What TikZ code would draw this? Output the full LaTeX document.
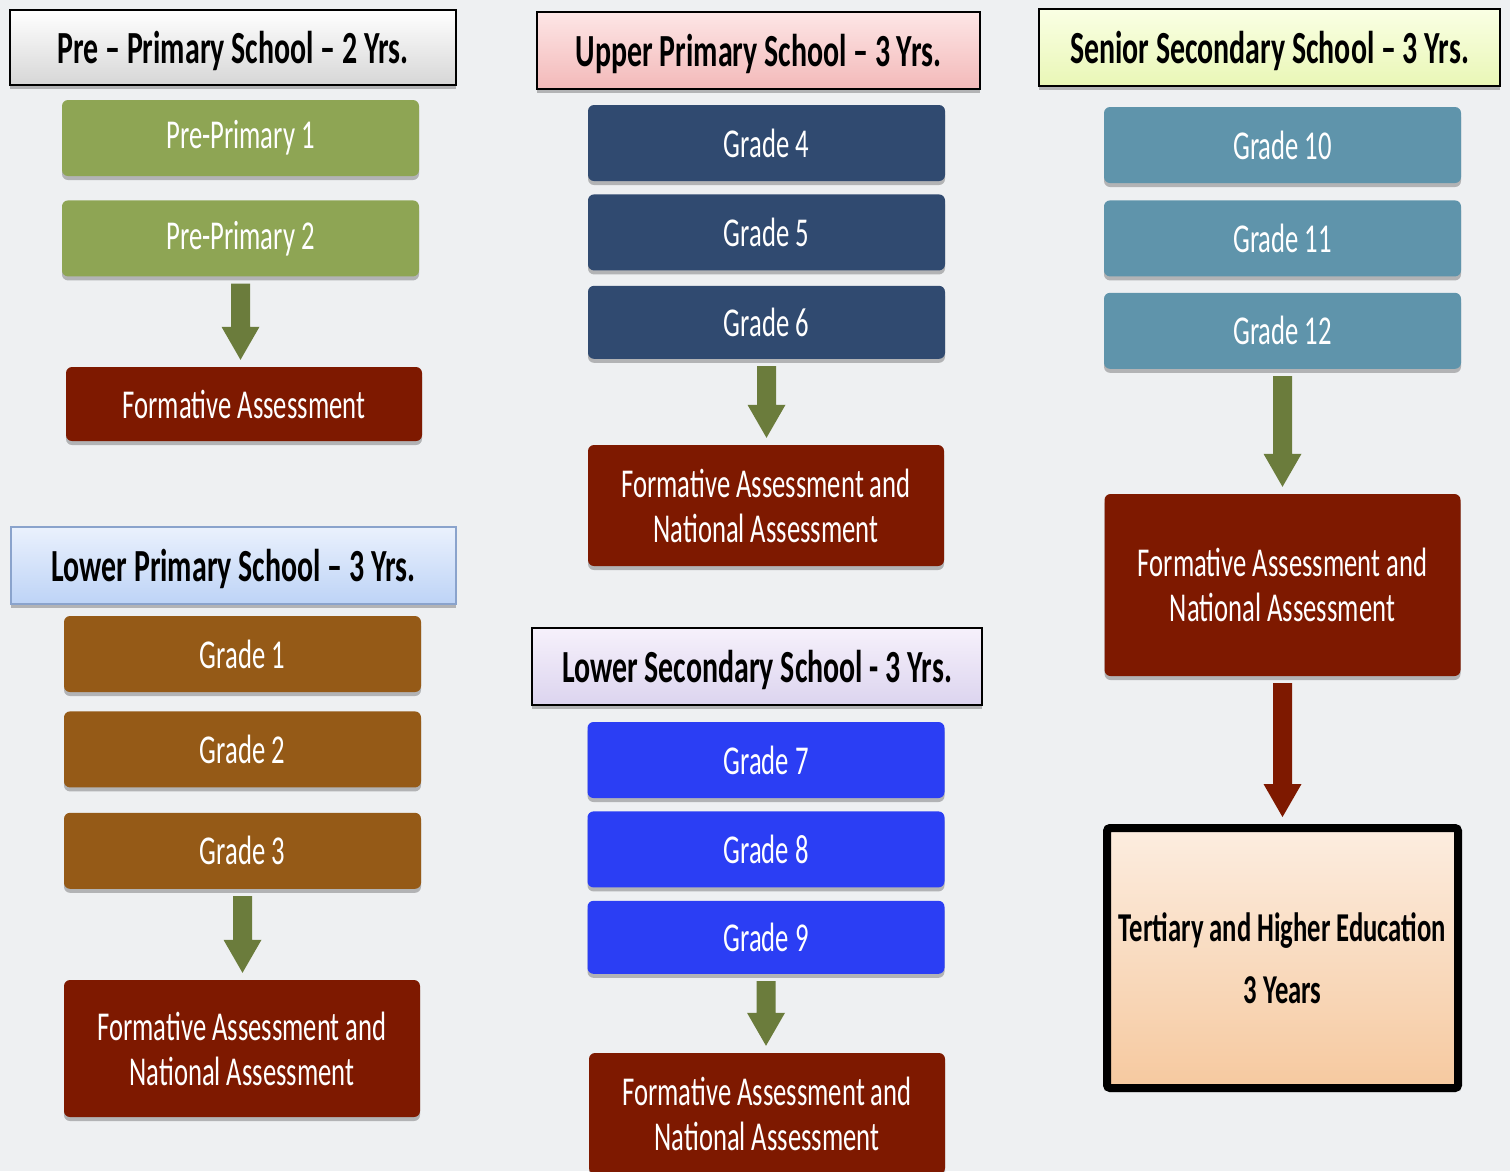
\documentclass[tikz,border=0pt]{standalone}
\usepackage{fontspec}
\setmainfont{Carlito}[FakeStretch=0.65]
\usetikzlibrary{positioning, calc, shadows}

\definecolor{bgcol}{HTML}{EEF0F2}
\definecolor{olivebox}{HTML}{8EA554}
\definecolor{assessred}{HTML}{7E1900}
\definecolor{brownbox}{HTML}{955A17}
\definecolor{navybox}{HTML}{304A70}
\definecolor{bluebox}{HTML}{2B3EF4}
\definecolor{steelbox}{HTML}{5F94AB}
\definecolor{arrowgreen}{HTML}{6B7C3C}

\tikzset{
  softshadow/.style={drop shadow={shadow xshift=0pt, shadow yshift=-4pt, opacity=0.25, fill=black}},
  header/.style={rectangle, draw=black, line width=1.5pt, minimum height=77pt, text=black, text depth=1pt,
    font=\fontsize{46}{50}\selectfont\bfseries, softshadow},
  hdrgray/.style={top color=white, bottom color=black!16},
  hdrpink/.style={top color={rgb,255:red,253;green,230;blue,230}, bottom color={rgb,255:red,243;green,185;blue,185}},
  hdrlime/.style={top color={rgb,255:red,250;green,255;blue,228}, bottom color={rgb,255:red,233;green,247;blue,182}},
  hdrsky/.style={top color={rgb,255:red,234;green,241;blue,253}, bottom color={rgb,255:red,189;green,211;blue,246}, draw={rgb,255:red,138;green,163;blue,204}},
  hdrlilac/.style={top color={rgb,255:red,246;green,241;blue,251}, bottom color={rgb,255:red,220;green,212;blue,239}},
  grade/.style={rectangle, rounded corners=6pt, fill=#1, minimum width=357pt, minimum height=76pt,
    text=white, font=\fontsize{41}{45}\selectfont, softshadow},
  assess/.style={grade=assessred, align=center, minimum width=356pt},
  tertiary/.style={rectangle, rounded corners=3pt, draw=black, line width=8pt, minimum width=351pt, minimum height=260pt,
    top color={rgb,255:red,252;green,237;blue,224}, bottom color={rgb,255:red,246;green,201;blue,159},
    text=black, align=center, font=\fontsize{41}{45}\selectfont\bfseries, softshadow},
  blockarrow/.style={fill=arrowgreen, to path={let \p1=(\tikztostart.south), \p2=(\tikztotarget.north) in
    (\x1-9.5pt,\y1-7pt) -- (\x1+9.5pt,\y1-7pt) -- (\x1+9.5pt,\y2+40pt) -- (\x1+19pt,\y2+40pt)
    -- (\x1,\y2+7pt) -- (\x1-19pt,\y2+40pt) -- (\x1-9.5pt,\y2+40pt) -- cycle}}
}

\begin{document}
\begin{tikzpicture}[x=1pt, y=-1pt]
  \fill[bgcol] (0,0) rectangle (1510,1171);
  \useasboundingbox (0,0) rectangle (1510,1171);

  % pre-primary
  \node (hpre) [header, hdrgray, minimum width=446pt, minimum height=75pt] at (233,47.5) {Pre – Primary School – 2 Yrs.};
  \node (pp1) [grade=olivebox] at (240.5,138) {Pre-Primary 1};
  \node (pp2) [grade=olivebox, below=24pt of pp1] {Pre-Primary 2};
  \node (fa1) [assess, minimum height=74pt] at (244,404) {Formative Assessment};

  % lower primary
  \node (hlp) [header, hdrsky, minimum width=445pt] at (233.5,565.5) {Lower Primary School – 3 Yrs.};
  \node (g1) [grade=brownbox] at (242.5,654) {Grade 1};
  \node (g2) [grade=brownbox, below=19pt of g1] {Grade 2};
  \node (g3) [grade=brownbox, below=25pt of g2] {Grade 3};
  \node (fa2) [assess, minimum height=137pt] at (242,1048.5) {Formative Assessment and\\National Assessment};

  % upper primary
  \node (hup) [header, hdrpink, minimum width=443pt] at (758.5,50.5) {Upper Primary School – 3 Yrs.};
  \node (g4) [grade=navybox] at (766.5,143) {Grade 4};
  \node (g5) [grade=navybox, below=13pt of g4] {Grade 5};
  \node (g6) [grade=navybox, below=15pt of g5, minimum height=73pt] {Grade 6};
  \node (fa3) [assess, minimum height=121pt] at (766,505.5) {Formative Assessment and\\National Assessment};

  % lower secondary
  \node (hls) [header, hdrlilac, minimum width=450pt] at (757,666.5) {Lower Secondary School - 3 Yrs.};
  \node (g7) [grade=bluebox] at (766,760) {Grade 7};
  \node (g8) [grade=bluebox, below=13pt of g7] {Grade 8};
  \node (g9) [grade=bluebox, below=13pt of g8, minimum height=73pt] {Grade 9};
  \node (fa4) [assess, minimum height=121pt] at (767,1113.5) {Formative Assessment and\\National Assessment};

  % senior secondary
  \node (hsen) [header, hdrlime, minimum width=461pt] at (1269.5,47.5) {Senior Secondary School – 3 Yrs.};
  \node (g10) [grade=steelbox] at (1282.5,145) {Grade 10};
  \node (g11) [grade=steelbox, below=17pt of g10] {Grade 11};
  \node (g12) [grade=steelbox, below=16pt of g11] {Grade 12};
  \node (fa5) [assess, minimum height=182pt] at (1282.5,585) {Formative Assessment and\\National Assessment};
  \node (ter) [tertiary] at (1282.5,958) {Tertiary and Higher Education\\[17pt]3 Years};

  \path [blockarrow] (pp2) to (fa1);
  \path [blockarrow] (g3) to (fa2);
  \path [blockarrow] (g6) to (fa3);
  \path [blockarrow] (g9) to (fa4);
  \path [blockarrow] (g12) to (fa5);
  \path [blockarrow, fill=assessred] (fa5) to (ter);
\end{tikzpicture}
\end{document}
